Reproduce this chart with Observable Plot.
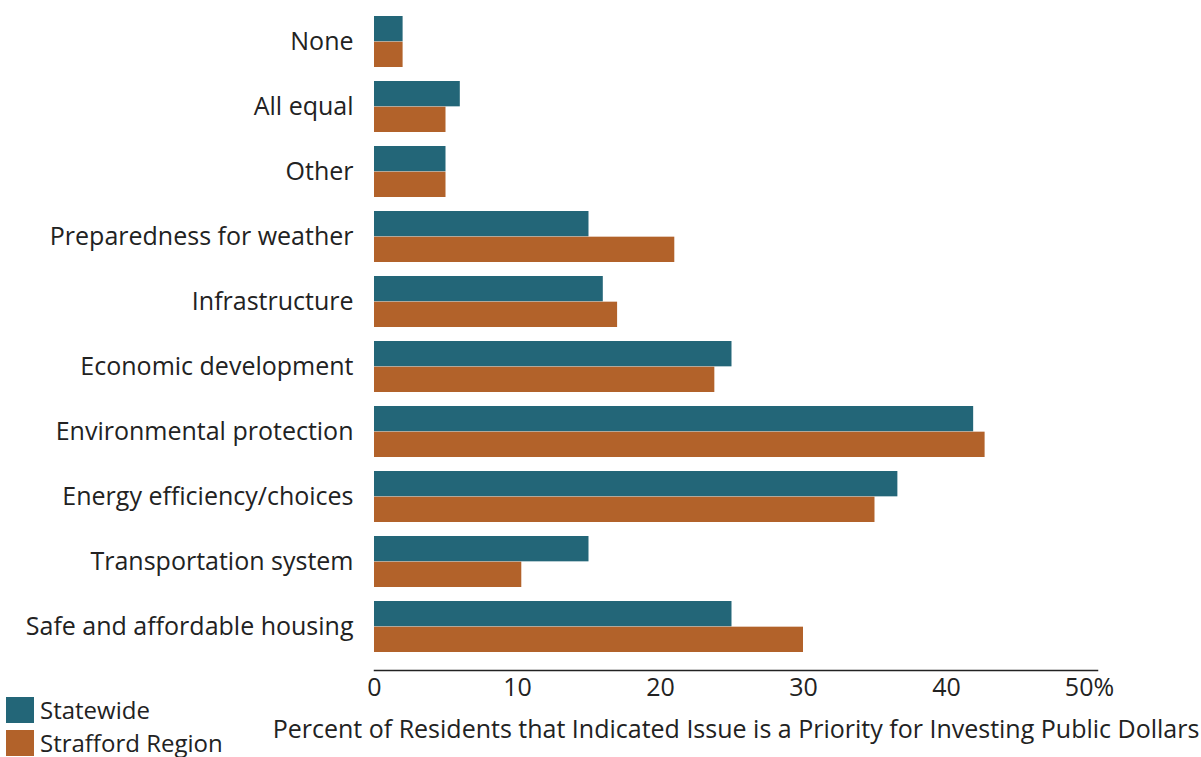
<!DOCTYPE html>
<html>
<head>
<meta charset="utf-8">
<script src="https://cdn.jsdelivr.net/npm/d3@7"></script>
<script src="https://cdn.jsdelivr.net/npm/@observablehq/plot@0.6"></script>
<style>
  html, body { margin: 0; padding: 0; background: #fff; }
  body { width: 1201px; height: 757px; position: relative; overflow: hidden; font-family: "Open Sans", sans-serif; }
  #chart { position: absolute; left: 0; top: 0; }
  #legend { position: absolute; left: 6px; top: 693px; font-size: 24px; color: #222; line-height: 33px; }
  .item { display: flex; align-items: center; height: 33px; }
  .sw { width: 28px; height: 26px; margin-right: 6px; }
</style>
</head>
<body>
<div id="chart"></div>
<div id="legend"></div>
<script>
const categories = [
  "None", "All equal", "Other", "Preparedness for weather", "Infrastructure",
  "Economic development", "Environmental protection", "Energy efficiency/choices",
  "Transportation system", "Safe and affordable housing"
];
const statewide = [2, 6, 5, 15, 16, 25, 41.9, 36.6, 15, 25];
const strafford = [2, 5, 5, 21, 17, 23.8, 42.7, 35, 10.3, 30];
const seriesNames = ["Statewide", "Strafford Region"];
const seriesColors = ["#236678", "#b2622a"];
const xTicks = [0, 10, 20, 30, 40, 50];
const xLabel = "Percent of Residents that Indicated Issue is a Priority for Investing Public Dollars";

const dataS = categories.map((c, i) => ({category: c, value: statewide[i]}));
const dataR = categories.map((c, i) => ({category: c, value: strafford[i]}));

const H = 757;
const yTop = 8, yBottomFrame = 670, insetB = 9;
const paddingInner = 0.215, paddingOuter = 0.1;
const step = (yBottomFrame - insetB - yTop) / (categories.length - paddingInner + 2 * paddingOuter);
const half = step * (1 - paddingInner) / 2;

const chart = Plot.plot({
  width: 1201,
  height: H,
  marginLeft: 374,
  marginRight: 104,
  marginTop: yTop,
  marginBottom: H - yBottomFrame,
  style: {fontFamily: "Open Sans, sans-serif", fontSize: "25px", color: "#222", background: "#fff"},
  x: {domain: [0, 50.56], ticks: xTicks},
  y: {domain: categories, paddingInner, paddingOuter, insetBottom: insetB},
  marks: [
    Plot.barX(dataS, {x: "value", y: "category", fill: seriesColors[0], insetBottom: half}),
    Plot.barX(dataR, {x: "value", y: "category", fill: seriesColors[1], insetTop: half}),
    Plot.frame({anchor: "bottom", stroke: "#222", strokeWidth: 1.5}),
    Plot.axisY({tickSize: 0, tickPadding: 21, label: null, fontSize: 25, fill: "#222", dy: 0}),
    Plot.axisX({
      ticks: xTicks, tickSize: 0, tickPadding: 8, fontSize: 25, fill: "#222",
      tickFormat: d => d === 50 ? "50%" : String(d),
      label: xLabel, labelAnchor: "center", labelOffset: 67, labelArrow: "none"
    })
  ]
});
document.getElementById("chart").appendChild(chart);

const legend = document.getElementById("legend");
seriesNames.forEach((n, i) => {
  const item = document.createElement("div");
  item.className = "item";
  const sw = document.createElement("div");
  sw.className = "sw";
  sw.style.background = seriesColors[i];
  const t = document.createElement("span");
  t.textContent = n;
  item.appendChild(sw); item.appendChild(t);
  legend.appendChild(item);
});
</script>
</body>
</html>
